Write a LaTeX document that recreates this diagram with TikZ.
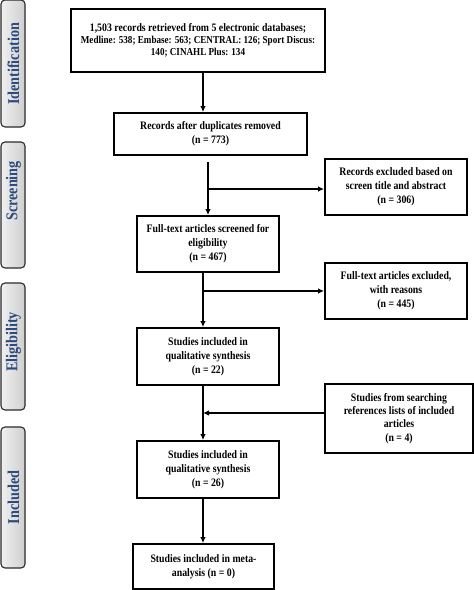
\documentclass[tikz,border=0pt]{standalone}
\usepackage{fontspec}
\setmainfont{Liberation Serif}
\newfontfamily\bxfont{Liberation Serif}[FakeStretch=0.86]
\newfontfamily\tabfont{Liberation Serif}[FakeStretch=0.86]
\usetikzlibrary{arrows.meta}
\definecolor{tabblue}{HTML}{2C4A7C}
\definecolor{tabline}{HTML}{2A2A2A}
\tikzset{
  box/.style={draw=black, line width=1.8pt, align=center, inner sep=2pt,
    font=\bxfont\fontsize{11.4pt}{14pt}\selectfont\bfseries},
  tab/.style={draw=tabline, line width=1.1pt, rounded corners=4pt,
    left color=gray!12, right color=gray!38},
  tablabel/.style={rotate=90, text=tabblue, font=\tabfont\fontsize{16.5pt}{18pt}\selectfont\bfseries},
  arr/.style={line width=1.1pt, -{Latex[length=6pt,width=5.5pt]}},
}
\begin{document}
\begin{tikzpicture}[x=1pt,y=-1pt]
\useasboundingbox (0,0) rectangle (474,590);
% side tabs
\node[tab, minimum width=24pt, minimum height=127pt] (t1) at (13,63.5) {};
\node[tablabel] (l1) at (13.5,64) {Identification};
\node[tab, minimum width=24pt, minimum height=126pt] (t2) at (13,205) {};
\node[tablabel] (l2) at (13.5,191) {Screening};
\node[tab, minimum width=24pt, minimum height=127pt] (t3) at (13,346.5) {};
\node[tablabel] (l3) at (13.5,342) {Eligibility};
\node[tab, minimum width=24pt, minimum height=141pt] (t4) at (13,497.5) {};
\node[tablabel] (l4) at (13.5,497.5) {Included};
% boxes
\node[box, minimum width=254pt, minimum height=63pt, font=\bxfont\fontsize{11.4pt}{12.5pt}\selectfont\bfseries] (b1) at (198,40.5)
  {1,503 records retrieved from 5 electronic databases;\\[-0.5pt]
   {\fontsize{10.6pt}{12.5pt}\selectfont Medline: 538; Embase: 563; CENTRAL: 126; Sport Discus:}\\
   {\fontsize{10.6pt}{12.5pt}\selectfont 140; CINAHL Plus: 134}};
\node[box, minimum width=193pt, minimum height=42pt] (b2) at (210.5,134)
  {Records after duplicates removed\\(n = 773)};
\node[box, minimum width=142pt, minimum height=56pt] (r1) at (396,187)
  {Records excluded based on\\screen title and abstract\\(n = 306)};
\node[box, minimum width=142pt, minimum height=56pt] (b3) at (208,244)
  {Full-text articles screened for\\eligibility\\(n = 467)};
\node[box, minimum width=142pt, minimum height=56pt] (r2) at (396,291)
  {Full-text articles excluded,\\with reasons\\(n = 445)};
\node[box, minimum width=142pt, minimum height=57pt] (b4) at (208,356.5)
  {Studies included in\\qualitative synthesis\\(n = 22)};
\node[box, minimum width=148pt, minimum height=69pt, font=\bxfont\fontsize{11.4pt}{13.3pt}\selectfont\bfseries] (r3) at (399,418.5)
  {Studies from searching\\references lists of included\\articles\\(n = 4)};
\node[box, minimum width=142pt, minimum height=57pt] (b5) at (208,469.5)
  {Studies included in\\qualitative synthesis\\(n = 26)};
\node[box, minimum width=141pt, minimum height=45pt] (b6) at (203.5,566.5)
  {Studies included in meta-\\analysis (n = 0)};
% helper coordinates
\coordinate (ax) at (203,0);
\coordinate (bx) at (208,0);
\coordinate (s1) at (208,162);
\coordinate (j1) at (208,189);
\coordinate (j2) at (203,291);
\coordinate (j3) at (203,413);
% connectors
\draw[arr] (b1.south -| ax) -- (b2.north -| ax);
\draw[arr] (s1) -- (b3.north -| bx);
\draw[arr] (j1) -- (r1.west |- j1);
\draw[arr] (b3.south -| ax) -- (b4.north -| ax);
\draw[arr] (j2) -- (r2.west |- j2);
\draw[arr] (b4.south -| ax) -- (b5.north -| ax);
\draw[arr] (r3.west |- j3) -- (j3);
\draw[arr] (b5.south -| ax) -- (b6.north -| ax);
\end{tikzpicture}
\end{document}
